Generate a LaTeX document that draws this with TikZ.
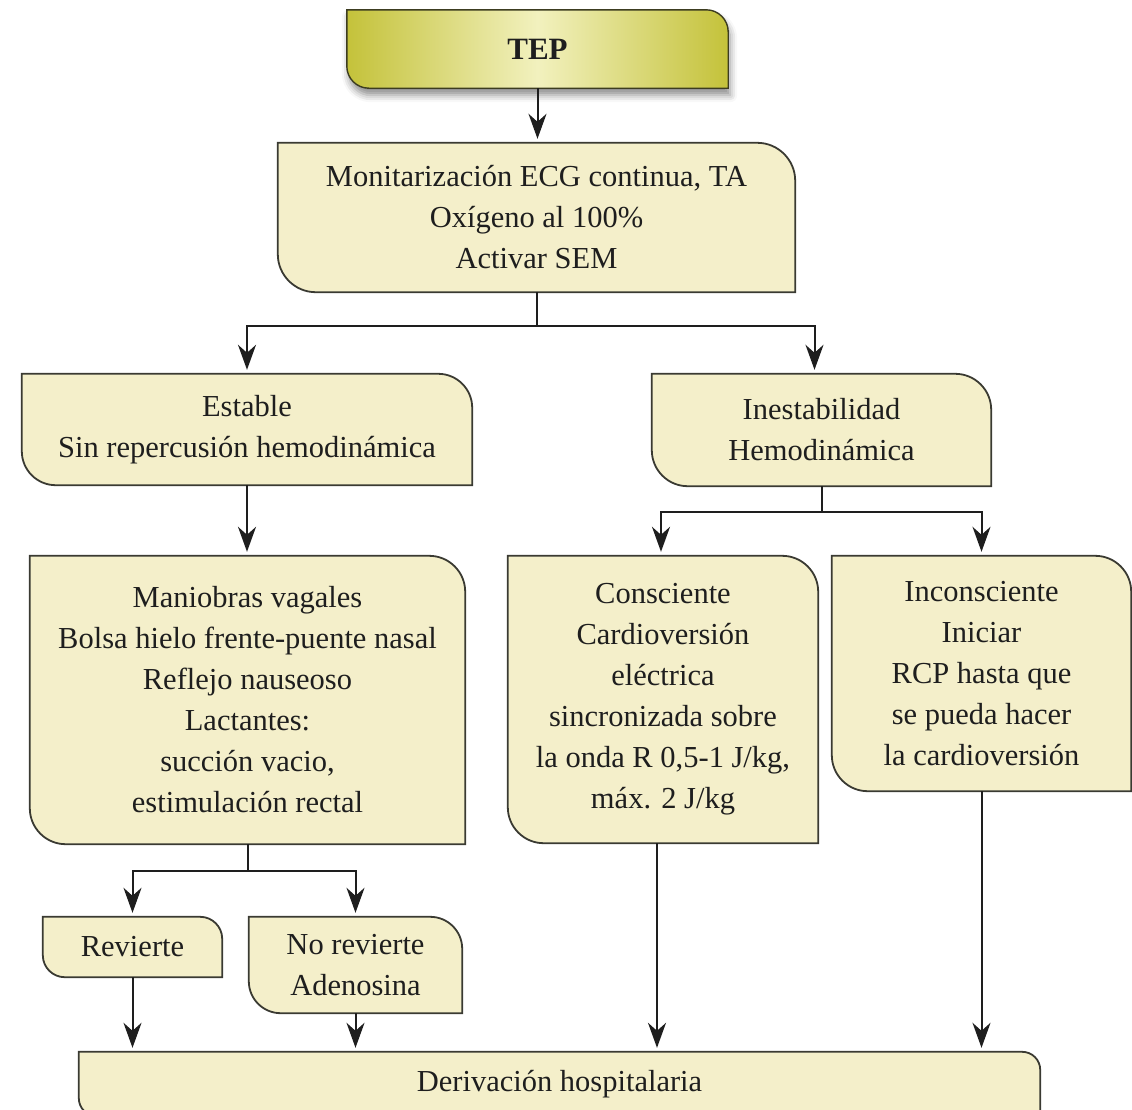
\documentclass[tikz,border=0pt]{standalone}
\usepackage{fontspec}
\setmainfont{Liberation Serif}
\usetikzlibrary{arrows.meta,backgrounds,shadows.blur}

\definecolor{boxfill}{HTML}{F4EFCA}
\definecolor{boxline}{HTML}{3A3A32}
\definecolor{tepdark}{HTML}{C4C23A}
\definecolor{teplight}{HTML}{F2F1BE}
\definecolor{tepline}{HTML}{3C3C20}
\definecolor{ink}{HTML}{1E1E1E}

% Outline of a box with square top-left / bottom-right corners and
% rounded top-right / bottom-left corners of radius #3 (pt)
\newcommand\cutbox[3][]{%
  \path[boxshape,#1] (#2.north west)
    -- ([xshift=-#3pt]#2.north east) arc[start angle=90,end angle=0,radius=#3pt]
    -- (#2.south east)
    -- ([xshift=#3pt]#2.south west) arc[start angle=270,end angle=180,radius=#3pt]
    -- cycle;}

\begin{document}
\begin{tikzpicture}[x=1pt,y=1pt,
  box/.style={rectangle, draw=none, inner sep=0pt, align=center, text=ink,
    font={\fontsize{30.5}{41}\selectfont}},
  boxshape/.style={fill=boxfill, draw=boxline, line width=1.8pt},
  link/.style={draw=ink, line width=2pt},
  arr/.style={link, -{Stealth[length=25pt,width=18pt,inset=8pt]}, shorten >=4pt}]

\useasboundingbox (0,0) rectangle (1132,-1109);

% ---- nodes (text and geometry) ----
\node[box, minimum width=381, minimum height=78, font={\fontsize{31}{41}\selectfont\bfseries}]
  (tep) at (537.5,-49) {TEP};
\node[box, minimum width=517, minimum height=149] (moni) at (536.5,-217.5)
  {Monitarización ECG continua, TA\\Oxígeno al 100\%\\Activar SEM};
\node[box, minimum width=450, minimum height=111] (estable) at (247,-429.5)
  {Estable\\Sin repercusión hemodinámica};
\node[box, minimum width=339, minimum height=112] (inest) at (821.5,-430)
  {Inestabilidad\\Hemodinámica};
\node[box, minimum width=435, minimum height=288] (maniobras) at (247.5,-700)
  {Maniobras vagales\\Bolsa hielo frente-puente nasal\\Reflejo nauseoso\\Lactantes:\\succión vacio,\\estimulación rectal};
\node[box, minimum width=310, minimum height=287] (consc) at (663,-699.5)
  {Consciente\\Cardioversión\\eléctrica\\sincronizada sobre\\la onda R 0,5-1 J/kg,\\máx. 2 J/kg};
\node[box, minimum width=299, minimum height=235] (incons) at (981.5,-673.5)
  {Inconsciente\\Iniciar\\RCP hasta que\\se pueda hacer\\la cardioversión};
\node[box, minimum width=179, minimum height=60] (rev) at (132.5,-947) {Revierte};
\node[box, minimum width=213, minimum height=96] (norev) at (355.5,-965)
  {No revierte\\Adenosina};
\node[box, minimum width=961, minimum height=64] (deriv) at (559.5,-1084)
  {Derivación hospitalaria};

% ---- box outlines behind the text ----
\begin{scope}[on background layer]
  \clip (0,0) rectangle (1132,-1109);
  \cutbox[left color=tepdark, right color=tepdark, middle color=teplight,
    draw=tepline, line width=1.4pt,
    blur shadow={shadow xshift=2pt, shadow yshift=-7pt, shadow blur radius=7pt, shadow opacity=45}]{tep}{22}
  \cutbox{moni}{38}
  \cutbox{estable}{34}
  \cutbox{inest}{36}
  \cutbox{maniobras}{36}
  \cutbox{consc}{36}
  \cutbox{incons}{36}
  \cutbox{rev}{22}
  \cutbox{norev}{32}
  \cutbox{deriv}{18}
\end{scope}

% ---- connectors ----
\coordinate (split1) at (536,-326);
\coordinate (split2) at (822,-512);
\coordinate (split3) at (248,-871);

\draw[arr] (tep.south) -- (tep.south |- moni.north);

\draw[link] (moni.south) -- (moni.south |- split1);
\draw[arr] (moni.south |- split1) -| (estable.north);
\draw[arr] (moni.south |- split1) -| ([xshift=-7pt]inest.north);

\draw[arr] (estable.south) -- (estable.south |- maniobras.north);

\draw[link] (inest.south) -- (inest.south |- split2);
\draw[arr] (inest.south |- split2) -| ([xshift=-2pt]consc.north);
\draw[arr] (inest.south |- split2) -| (incons.north);

\draw[link] (maniobras.south) -- (maniobras.south |- split3);
\draw[arr] (maniobras.south |- split3) -| (rev.north);
\draw[arr] (maniobras.south |- split3) -| (norev.north);

\draw[arr] (rev.south) -- (rev.south |- deriv.north);
\draw[arr] (norev.south) -- (norev.south |- deriv.north);
\draw[arr] ([xshift=-6pt]consc.south) -- ([xshift=-6pt]consc.south |- deriv.north);
\draw[arr] (incons.south) -- (incons.south |- deriv.north);
\end{tikzpicture}
\end{document}
